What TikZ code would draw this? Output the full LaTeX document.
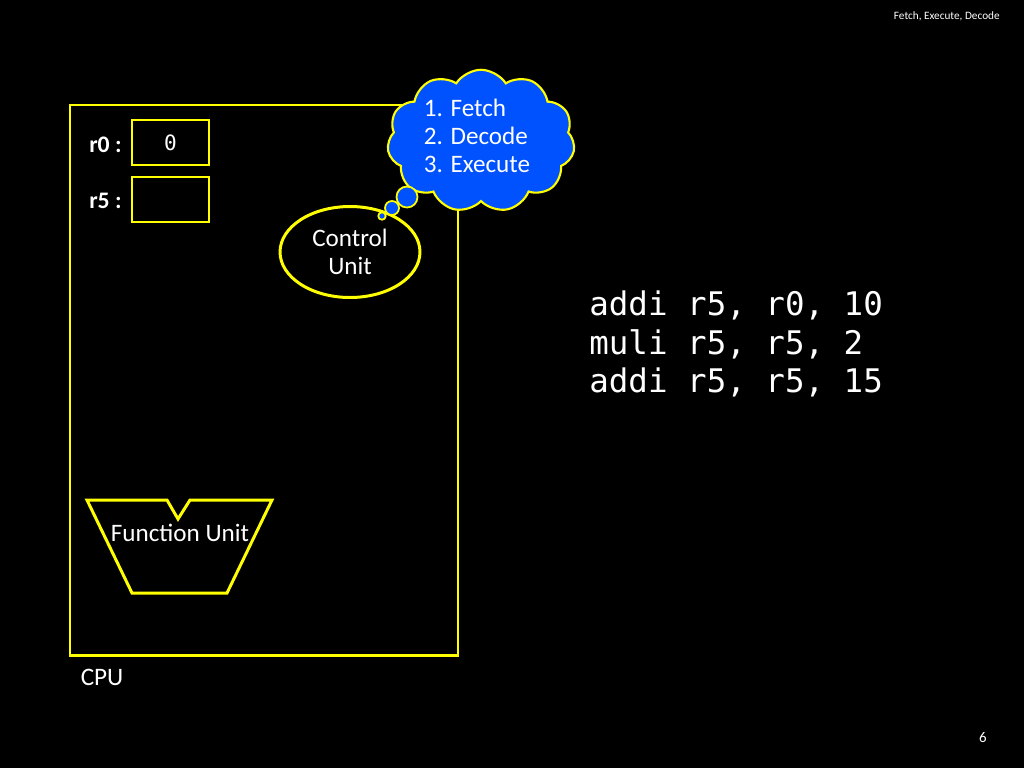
\documentclass[tikz,border=0pt]{standalone}
\usepackage{fontspec}
\setmainfont{Carlito}
\setmonofont{DejaVu Sans Mono}
\usetikzlibrary{shapes.symbols,shapes.geometric}
\definecolor{ylw}{RGB}{255,255,0}
\definecolor{thinkblue}{RGB}{0,82,255}

\begin{document}
\begin{tikzpicture}[x=0.02cm,y=-0.02cm,every node/.style={text=white},
    unit/.style={draw=ylw,line width=1.7pt},
    reg/.style={draw=ylw,line width=0.8pt,minimum width=1.54cm,minimum height=0.9cm,inner sep=0pt},
    reglbl/.style={anchor=east,inner sep=0pt,font=\fontsize{13.5}{15}\selectfont\bfseries},
    txt/.style={font=\fontsize{14.3}{16}\selectfont,align=center,inner sep=0pt},
    bubble/.style={circle,draw=ylw,line width=1pt,fill=thinkblue,inner sep=0pt}]
    % background
    \fill[black] (0,0) rectangle (1024,768);
    % cpu box
    \draw[unit] (70,105) rectangle (458,655);
    \node[txt] (cpu) at (102,677) {CPU};
    % registers
    \node[reglbl] (r0l) at (122,145) {r0 :};
    \node[reg] (r0) at (170.5,142.5) {\fontsize{12}{14}\selectfont\ttfamily 0};
    \node[reglbl] (r5l) at (122,201) {r5 :};
    \node[reg] (r5) at (170.5,199.5) {};
    % control unit and its thought
    \node[ellipse,unit,minimum width=2.8cm,minimum height=1.82cm,txt] (cu) at (350,252) {Control\\Unit};
    \node[cloud,cloud puffs=11,cloud puff arc=115,draw=ylw,line width=1.2pt,fill=thinkblue,
      minimum width=3.75cm,minimum height=2.85cm] (think) at (481,141) {};
    \node[txt,align=left] (steps) at (477,136) {1. Fetch\\2. Decode\\3. Execute};
    \node[bubble,minimum size=0.42cm] (b1) at (407,197) {};
    \node[bubble,minimum size=0.28cm] (b2) at (392,208) {};
    \node[bubble,minimum size=0.15cm] (b3) at (382,216) {};
    % function unit
    \draw[unit,line join=miter] (87,500) -- (167,500) -- (178,519) -- (190,500) -- (272,500)
      -- (227,593) -- (132,593) -- cycle;
    \node[txt] (fu) at (180,533) {Function Unit};
    % program
    \node[anchor=west,align=left,inner sep=0pt,font=\ttfamily\fontsize{18.5}{22}\selectfont] (prog) at (589,344)
      {addi r5, r0, 10\\muli r5, r5, 2\\addi r5, r5, 15};
    % slide title and number
    \node[anchor=east,inner sep=0pt,font=\fontsize{6.4}{7}\selectfont] (title) at (1000,16) {Fetch, Execute, Decode};
    \node[inner sep=0pt,font=\fontsize{8.5}{10}\selectfont] (page) at (983,737) {6};
\end{tikzpicture}
\end{document}
